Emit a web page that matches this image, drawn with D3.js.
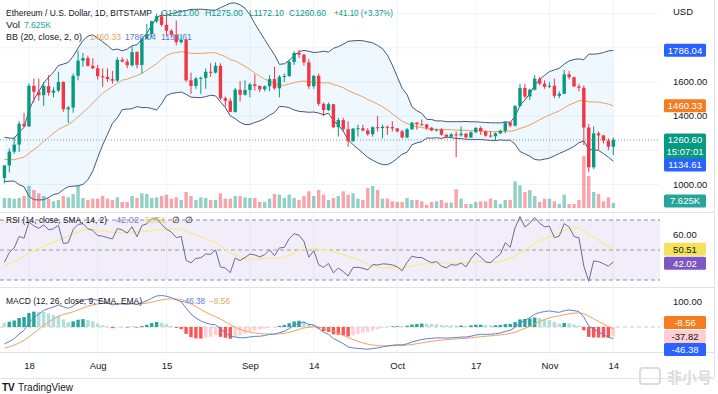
<!DOCTYPE html>
<html>
<head>
<meta charset="utf-8">
<script src="https://cdn.jsdelivr.net/npm/d3@7"></script>
<style>
body { margin: 0; background: #fff; }
text { font-family: "Liberation Sans", Arial, sans-serif; font-size: 9.5px; fill: #131722; }
text.legend { font-size: 8.5px; }
</style>
</head>
<body>
<script>
/* Data : ETH/USD daily, Bitstamp, 13 Jul -> 14 Nov (open, high, low, close) */
var startDay = new Date(2022, 6, 13);
var ohlc = [
	[1038,1112,1006,1111],[1111,1210,1070,1192],[1192,1280,1180,1233],[1233,1370,1190,1355],[1355,1420,1337,1340],
	[1340,1592,1336,1578],[1578,1620,1480,1543],[1543,1620,1490,1523],[1523,1600,1460,1576],[1576,1640,1520,1537],
	[1537,1570,1510,1550],[1550,1660,1540,1600],[1600,1605,1425,1440],[1440,1460,1360,1450],[1450,1650,1420,1636],
	[1636,1785,1610,1725],[1725,1770,1690,1740],[1740,1755,1690,1695],[1695,1740,1675,1680],
	[1680,1700,1615,1634],[1634,1680,1570,1630],[1630,1680,1600,1617],[1617,1665,1590,1608],[1608,1745,1600,1730],
	[1730,1745,1715,1720],[1720,1735,1680,1698],[1698,1810,1690,1775],[1775,1780,1680,1700],[1700,1860,1650,1853],
	[1853,1940,1850,1880],[1880,1960,1860,1956],[1956,2000,1945,1985],[1985,2010,1925,1935],[1935,2005,1865,1900],
	[1900,1910,1860,1877],[1877,1960,1815,1833],[1833,1880,1825,1848],[1848,1850,1600,1610],[1610,1655,1530,1577],
	[1577,1630,1560,1620],[1620,1632,1530,1624],[1624,1680,1560,1660],[1660,1710,1630,1655],[1655,1715,1650,1695],
	[1695,1710,1495,1505],[1505,1515,1455,1490],[1490,1505,1423,1425],[1425,1565,1420,1555],[1555,1605,1485,1525],
	[1525,1610,1520,1553],
	[1553,1595,1510,1586],[1586,1645,1550,1577],[1577,1580,1540,1557],[1557,1580,1545,1575],[1575,1640,1545,1617],
	[1617,1690,1555,1563],[1563,1640,1510,1630],[1630,1650,1600,1635],[1635,1730,1630,1718],[1718,1780,1700,1770],
	[1770,1790,1740,1760],[1760,1765,1695,1715],[1715,1735,1560,1575],[1575,1640,1560,1636],[1636,1650,1460,1472],
	[1472,1480,1400,1436],[1436,1480,1430,1470],[1470,1470,1330,1335],[1335,1390,1280,1377],[1377,1390,1310,1324],
	[1324,1370,1220,1253],[1253,1330,1250,1327],[1327,1350,1280,1329],[1329,1350,1310,1316],[1316,1330,1285,1294],
	[1294,1340,1280,1335],[1335,1400,1310,1330],[1330,1350,1270,1338],[1338,1345,1290,1336],[1336,1370,1310,1328],
	[1328,1330,1305,1311],[1311,1320,1270,1275],[1275,1330,1270,1323],[1323,1365,1320,1362],[1362,1365,1320,1352],
	[1352,1380,1345,1351],[1351,1355,1320,1332],[1332,1336,1312,1316],[1316,1325,1310,1321],[1321,1330,1285,1291],
	[1291,1295,1270,1279],[1279,1300,1275,1293],[1293,1310,1160,1288],[1288,1340,1280,1297],[1297,1300,1270,1275],
	[1275,1310,1272,1306],[1306,1335,1300,1331],[1331,1340,1290,1311],[1311,1315,1280,1286],[1286,1310,1275,1282],
	[1282,1305,1255,1299],[1299,1320,1295,1314],[1314,1370,1300,1363],[1363,1370,1335,1344],[1344,1465,1340,1459],
	[1459,1590,1455,1565],[1565,1590,1505,1515],[1515,1560,1495,1555],[1555,1640,1550,1619],[1619,1630,1580,1590],
	[1590,1610,1560,1572],
	[1572,1600,1565,1578],[1578,1620,1505,1519],[1519,1545,1505,1531],[1531,1670,1530,1645],[1645,1665,1615,1628],
	[1628,1630,1570,1574],[1574,1590,1545,1566],[1566,1580,1230,1333],[1333,1355,1070,1100],[1100,1340,1090,1299],
	[1299,1310,1200,1287],[1287,1290,1240,1256],[1256,1270,1200,1221],[1221,1275,1172.1,1260.6]
];
// volume, thousands
var volume = [
	15,15,14,15,18,33,27,22,18,14,10,12,18,16,21,33,15,12,14,
	14,18,14,12,16,9,9,18,15,22,21,15,16,18,20,14,16,12,24,18,12,16,15,12,12,22,14,14,18,18,16,
	15,15,9,9,14,21,20,15,20,15,12,18,25,18,27,20,12,15,18,25,20,22,14,12,30,33,27,14,14,10,
	9,9,15,12,12,10,5,9,10,12,8,8,28,14,6,6,9,10,10,14,12,6,12,12,40,34,24,27,18,9,14,
	14,10,6,20,6,6,12,78,48,24,21,10,16,7.625
];
// closes before the visible range (1 May -> 12 Jul), only used to warm up the indicators
var warmupClose = [
	2830,2860,2780,2940,2750,2690,2635,2520,2240,2340,2080,1960,2010,2060,2140,2025,2090,1915,2015,1960,
	1975,2040,1970,1980,1945,1800,1725,1790,1810,1995,1940,
	1815,1830,1775,1800,1805,1860,1815,1790,1790,1660,1530,1435,1207,1210,1235,1065,1085,995,1128,1127,
	1125,1050,1144,1225,1242,1199,1193,1143,1098,1070,
	1060,1067,1074,1151,1134,1187,1238,1221,1217,1168,1097,1038
];
var timeTicks = ["2022-07-18","2022-08-01","2022-08-15","2022-09-01","2022-09-14","2022-10-01","2022-10-17","2022-11-01","2022-11-14"];
var timeLabels = ["18","Aug","15","Sep","14","Oct","17","Nov","14"];
var priceTicks = [1000, 1400, 1600];
var priceGrid = [1000, 1200, 1400, 1600, 1800, 2000];
var rsiLevels = [70, 50, 30];
var rsiTicks = [60];
var macdTicks = [100];

/* Colours */
var upColor = "#089981", downColor = "#f23645";

/* Display setup */
var W = 718, H = 394, plotRight = 660,
	body = d3.select("body"),
	svg = body.append("svg").attr("width", W).attr("height", H),
	mainPane = {top: 0, bottom: 212},
	rsiPane = {top: 213, bottom: 287},
	macdPane = {top: 288, bottom: 352};

var dates = ohlc.map(function(d, i) { return d3.timeDay.offset(startDay, i); });
var parseDay = d3.timeParse("%Y-%m-%d");

var x = d3.scaleTime().domain([dates[0], dates[dates.length - 1]]).range([4.4, 613.3]),
	y = d3.scaleLinear().domain([1000, 1600]).range([184.4, 82]),
	yVol = d3.scaleLinear().domain([0, 120]).range([208, 128]),
	yRsi = d3.scaleLinear().domain([30, 70]).range([280, 220]),
	yMacd = d3.scaleLinear().domain([0, 100]).range([327, 302]),
	barW = 3.4;

/* Indicators */
var close = ohlc.map(function(d) { return d[3]; });
var allClose = warmupClose.concat(close);
var n0 = warmupClose.length;

function ema(src, len) {
	var a = 2 / (len + 1), prev, out = [];
	src.forEach(function(v, i) {
		prev = (i === 0) ? v : a * v + (1 - a) * prev;
		out.push(prev);
	});
	return out;
}

function sma(src, len, i) {
	if (i < len - 1 || src[i - len + 1] == null) return null;
	var s = 0;
	for (var j = i - len + 1; j <= i; j++) s += src[j];
	return s / len;
}

function rsiCalc(src, len) {
	var out = [null], up = 0, dn = 0;
	for (var i = 1; i < src.length; i++) {
		var ch = src[i] - src[i - 1], u = Math.max(ch, 0), d = Math.max(-ch, 0);
		if (i <= len) {
			up += u / len; dn += d / len;
			out.push(i === len ? 100 - 100 / (1 + up / dn) : null);
		} else {
			up = (up * (len - 1) + u) / len;
			dn = (dn * (len - 1) + d) / len;
			out.push(dn === 0 ? 100 : 100 - 100 / (1 + up / dn));
		}
	}
	return out;
}

var bb = allClose.map(function(c, i) {
	var m = sma(allClose, 20, i);
	if (m == null) return null;
	var v = 0;
	for (var j = i - 19; j <= i; j++) v += (allClose[j] - m) * (allClose[j] - m);
	var sd = Math.sqrt(v / 20);
	return {basis: m, upper: m + 2 * sd, lower: m - 2 * sd};
}).slice(n0);

var rsiAll = rsiCalc(allClose, 14);
var rsiSig = rsiAll.map(function(v, i) { return sma(rsiAll, 14, i); }).slice(n0);
var rsi = rsiAll.slice(n0);

var e12 = ema(allClose, 12), e26 = ema(allClose, 26);
var macdAll = e12.map(function(v, i) { return v - e26[i]; });
var sigAll = ema(macdAll, 9);
var histAll = macdAll.map(function(v, i) { return v - sigAll[i]; });
var macd = macdAll.slice(n0), signal = sigAll.slice(n0), hist = histAll.slice(n0);
var histPrev = histAll.slice(n0 - 1);

/* Clip paths */
var defs = svg.append("defs");
[["clipMain", mainPane], ["clipRsi", rsiPane], ["clipMacd", macdPane]].forEach(function(c) {
	defs.append("clipPath").attr("id", c[0])
		.append("rect").attr("x", 0).attr("y", c[1].top)
		.attr("width", plotRight).attr("height", c[1].bottom - c[1].top);
});

/* Grid */
var grid = svg.append("g");
grid.selectAll(".vgrid").data(timeTicks).enter().append("line")
	.attr("x1", function(d) { return x(parseDay(d)); })
	.attr("x2", function(d) { return x(parseDay(d)); })
	.attr("y1", 0).attr("y2", macdPane.bottom)
	.style("stroke", "#f0f3fa");
grid.selectAll(".hgrid").data(priceGrid).enter().append("line")
	.attr("x1", 0).attr("x2", plotRight)
	.attr("y1", function(d) { return y(d); }).attr("y2", function(d) { return y(d); })
	.style("stroke", "#f0f3fa");

/* Main pane */
var main = svg.append("g").attr("clip-path", "url(#clipMain)");

main.append("path")
	.datum(bb.map(function(d, i) { return {d: dates[i], b: d}; }))
	.attr("d", d3.area()
		.x(function(d) { return x(d.d); })
		.y0(function(d) { return y(d.b.lower); })
		.y1(function(d) { return y(d.b.upper); }))
	.style("fill", "rgba(33,150,243,0.07)");

["upper", "lower", "basis"].forEach(function(k) {
	main.append("path")
		.datum(bb.map(function(d, i) { return {d: dates[i], v: d[k]}; }))
		.attr("d", d3.line().x(function(d) { return x(d.d); }).y(function(d) { return y(d.v); }))
		.style("fill", "none")
		.style("stroke", k === "basis" ? "#e9a15f" : "#46587a")
		.style("stroke-width", 1);
});

// volume
main.selectAll(".vol").data(volume).enter().append("rect")
	.attr("x", function(d, i) { return x(dates[i]) - barW / 2; })
	.attr("width", barW)
	.attr("y", function(d) { return yVol(d); })
	.attr("height", function(d) { return yVol(0) - yVol(d); })
	.style("fill", function(d, i) { return ohlc[i][3] >= ohlc[i][0] ? "rgba(8,153,129,0.45)" : "rgba(242,54,69,0.45)"; });

// last price line
main.append("line")
	.attr("x1", 0).attr("x2", plotRight)
	.attr("y1", y(close[close.length - 1])).attr("y2", y(close[close.length - 1]))
	.style("stroke", "#6f9d93").style("stroke-dasharray", "1,2");

// candles
var candle = main.selectAll(".candle").data(ohlc).enter().append("g");
candle.append("line")
	.attr("x1", function(d, i) { return x(dates[i]); })
	.attr("x2", function(d, i) { return x(dates[i]); })
	.attr("y1", function(d) { return y(d[1]); })
	.attr("y2", function(d) { return y(d[2]); })
	.style("stroke", function(d) { return d[3] >= d[0] ? upColor : downColor; });
candle.append("rect")
	.attr("x", function(d, i) { return x(dates[i]) - barW / 2; })
	.attr("width", barW)
	.attr("y", function(d) { return y(Math.max(d[0], d[3])); })
	.attr("height", function(d) { return Math.max(1, Math.abs(y(d[0]) - y(d[3]))); })
	.style("fill", function(d) { return d[3] >= d[0] ? upColor : downColor; });

/* RSI pane */
var rsiG = svg.append("g").attr("clip-path", "url(#clipRsi)");
rsiG.append("rect")
	.attr("x", 0).attr("width", plotRight)
	.attr("y", yRsi(70)).attr("height", yRsi(30) - yRsi(70))
	.style("fill", "rgba(126,87,194,0.1)");
rsiG.selectAll(".lvl").data(rsiLevels).enter().append("line")
	.attr("x1", 0).attr("x2", plotRight)
	.attr("y1", function(d) { return yRsi(d); }).attr("y2", function(d) { return yRsi(d); })
	.style("stroke", function(d) { return d === 50 ? "#9a9ca4" : "#8b8e96"; })
	.style("stroke-dasharray", "4,3");
rsiG.append("path")
	.datum(rsiSig)
	.attr("d", d3.line().defined(function(d) { return d != null; })
		.x(function(d, i) { return x(dates[i]); }).y(function(d) { return yRsi(d); }))
	.style("fill", "none").style("stroke", "#f7e9a6").style("stroke-width", 1.6);
rsiG.append("path")
	.datum(rsi)
	.attr("d", d3.line().x(function(d, i) { return x(dates[i]); }).y(function(d) { return yRsi(d); }))
	.style("fill", "none").style("stroke", "#6d6896").style("stroke-width", 1);

/* MACD pane */
var macdG = svg.append("g").attr("clip-path", "url(#clipMacd)");
macdG.append("line")
	.attr("x1", 0).attr("x2", plotRight)
	.attr("y1", yMacd(0)).attr("y2", yMacd(0))
	.style("stroke", "#c9c9cf").style("stroke-dasharray", "4,3");
macdG.selectAll(".hist").data(hist).enter().append("rect")
	.attr("x", function(d, i) { return x(dates[i]) - barW / 2; })
	.attr("width", barW)
	.attr("y", function(d) { return d >= 0 ? yMacd(d) : yMacd(0); })
	.attr("height", function(d) { return Math.abs(yMacd(d) - yMacd(0)); })
	.style("fill", function(d, i) {
		var p = histPrev[i];
		if (d >= 0) return p < d ? "#26a69a" : "#b2dfdb";
		return p < d ? "#ffcdd2" : "#ff5252";
	});
macdG.append("path")
	.datum(signal)
	.attr("d", d3.line().x(function(d, i) { return x(dates[i]); }).y(function(d) { return yMacd(d); }))
	.style("fill", "none").style("stroke", "#eea262").style("stroke-width", 1);
macdG.append("path")
	.datum(macd)
	.attr("d", d3.line().x(function(d, i) { return x(dates[i]); }).y(function(d) { return yMacd(d); }))
	.style("fill", "none").style("stroke", "#5d7fd6").style("stroke-width", 1);

/* Pane separators & frame */
[rsiPane.top - 0.5, macdPane.top - 0.5, macdPane.bottom + 0.5, 378.5].forEach(function(v) {
	svg.append("line").attr("x1", 0).attr("x2", 714).attr("y1", v).attr("y2", v)
		.style("stroke", "#e0e3eb");
});
svg.append("line").attr("x1", 714.5).attr("x2", 714.5).attr("y1", 0).attr("y2", 378)
	.style("stroke", "#e0e3eb");

/* Time axis */
var xAxis = svg.append("g")
	.attr("transform", "translate(0," + macdPane.bottom + ")")
	.call(d3.axisBottom(x)
		.tickValues(timeTicks.map(parseDay))
		.tickFormat(function(d, i) { return timeLabels[i]; })
		.tickSize(0).tickPadding(10));
xAxis.select(".domain").remove();
xAxis.selectAll("text").style("font-family", "Liberation Sans, Arial, sans-serif").style("font-size", "9.5px").style("fill", "#131722");

/* Right price axis */
function axisText(v, yc) {
	svg.append("text").attr("x", 673).attr("y", yc).attr("dy", "0.35em").text(v);
}
priceTicks.forEach(function(p) { axisText(d3.format(".2f")(p), y(p)); });
rsiTicks.forEach(function(p) { axisText(d3.format(".2f")(p), yRsi(p)); });
macdTicks.forEach(function(p) { axisText(d3.format(".2f")(p), yMacd(p)); });
svg.append("text").attr("x", 673).attr("y", 12).attr("dy", "0.35em").text("USD");

function axisLabel(yc, lines, bg, fg) {
	var h = 13 * lines.length;
	svg.append("rect").attr("x", 664).attr("y", yc - 6.5).attr("width", 42).attr("height", h)
		.attr("rx", 1.5).style("fill", bg);
	lines.forEach(function(t, i) {
		svg.append("text").attr("x", 685).attr("y", yc + i * 12).attr("dy", "0.35em")
			.attr("text-anchor", "middle").style("fill", fg).text(t);
	});
}
axisLabel(y(1786.04), ["1786.04"], "#2962ff", "#fff");
axisLabel(y(1460.33), ["1460.33"], "#f57c1f", "#fff");
axisLabel(y(1260.60), ["1260.60", "15:07:01"], "#089981", "#fff");
axisLabel(y(1260.60) + 25, ["1134.61"], "#2962ff", "#fff");
axisLabel(yVol(7.625) - 2, ["7.625K"], "#26a69a", "#fff");
axisLabel(yRsi(50.51), ["50.51"], "#f5e15a", "#131722");
axisLabel(yRsi(50.51) + 14, ["42.02"], "#7e57c2", "#fff");
axisLabel(yMacd(-37.82) - 14, ["-8.56"], "#f57c1f", "#fff");
axisLabel(yMacd(-37.82), ["-37.82"], "#ffcdd2", "#131722");
axisLabel(yMacd(-37.82) + 13, ["-46.38"], "#2962ff", "#fff");

/* Legends : [x, text, colour, width] */
function legend(yb, parts) {
	parts.forEach(function(p) {
		var t = svg.append("text").attr("class", "legend")
			.attr("x", p[0]).attr("y", yb).style("fill", p[2]).text(p[1]);
		if (p[3]) t.attr("textLength", p[3]).attr("lengthAdjust", "spacingAndGlyphs");
	});
}
legend(16, [[6, "Ethereum / U.S. Dollar, 1D, BITSTAMP", "#131722", 146], [161, "O1221.00", upColor, 38],
	[205, "H1275.00", upColor, 38], [249, "L1172.10", upColor, 35], [289, "C1260.60", upColor, 37], [334, "+41.10 (+3.37%)", upColor, 59]]);
legend(28, [[6, "Vol", "#131722", 14], [24, "7.625K", "#26a69a", 27]]);
legend(40, [[6, "BB (20, close, 2, 0)", "#131722", 76], [90, "1460.33", "#f0a35e", 31], [125, "1786.04", "#5b7bd5", 31], [161, "1134.61", "#5b7bd5", 31]]);
legend(223, [[6, "RSI (14, close, SMA, 14, 2)", "#131722", 101], [116, "42.02", "#8b7ac0", 23], [145, "50.51", "#e7cf4a", 21], [172, "\u2205", "#131722"], [185, "\u2205", "#131722"]]);
legend(304, [[6, "MACD (12, 26, close, 9, EMA, EMA)", "#131722", 136], [180, "\u221246.38", "#5b7bd5", 25], [209, "\u22128.56", "#f0a35e", 21]]);

/* Footer */
svg.append("text").attr("x", 2).attr("y", 391).style("font-weight", "bold").style("font-size", "10px").text("TV");
svg.append("text").attr("x", 18).attr("y", 391).style("font-size", "10px").text("TradingView");
svg.append("text").attr("x", 712).attr("y", 383).attr("text-anchor", "end")
	.style("font-family", "Noto Sans CJK SC").style("font-size", "15px").style("font-weight", "bold")
	.style("fill", "#dcdcdc").text("非小号");
svg.append("rect").attr("x", 640).attr("y", 368).attr("width", 20).attr("height", 16).attr("rx", 3)
	.style("fill", "none").style("stroke", "#dcdcdc").style("stroke-width", 2);
</script>
</body>
</html>
